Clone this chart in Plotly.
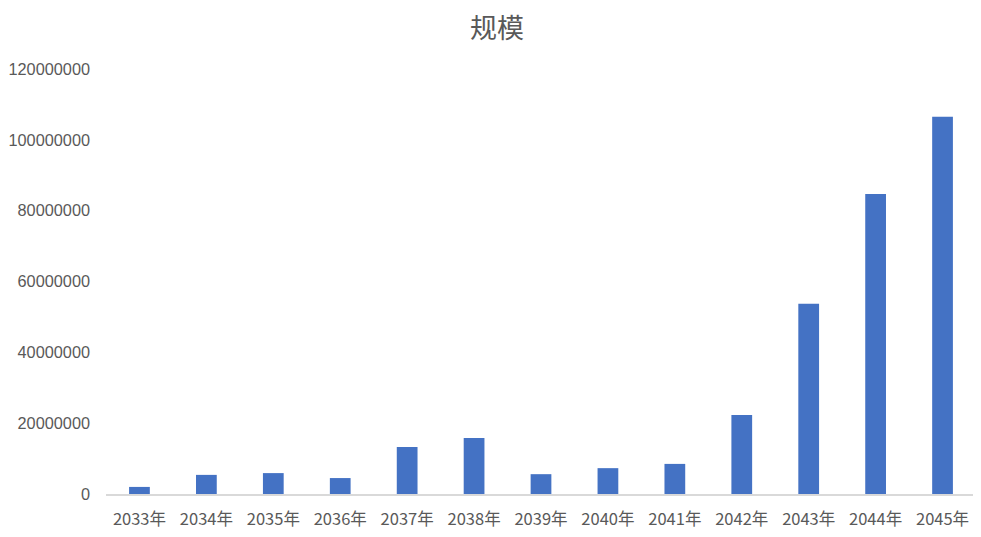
import plotly.graph_objects as go

years = ["2033年", "2034年", "2035年", "2036年", "2037年", "2038年", "2039年",
         "2040年", "2041年", "2042年", "2043年", "2044年", "2045年"]
scale = [2000000, 5400000, 5900000, 4500000, 13300000, 15800000, 5600000,
         7300000, 8500000, 22300000, 53700000, 84700000, 106500000]
y_ticks = [0, 20000000, 40000000, 60000000, 80000000, 100000000, 120000000]

font_family = "Liberation Sans, Noto Sans CJK SC, sans-serif"

fig = go.Figure(go.Bar(x=years, y=scale, marker_color="#4472C4", marker_line_width=0))

fig.update_layout(
    width=973, height=529,
    margin=dict(l=98, r=5, t=61, b=43, autoexpand=False),
    paper_bgcolor="white", plot_bgcolor="white",
    bargap=0.69,
    showlegend=False,
    title=dict(text="规模", x=0.5026, xanchor="center", y=0.962, yanchor="middle",
               font=dict(family="Noto Sans CJK SC, sans-serif", size=27, color="#595959")),
    font=dict(family=font_family, size=15, color="#595959"),
)
fig.update_xaxes(showline=True, linecolor="#d9d9d9", linewidth=1.5, ticks="",
                 showgrid=False, ticklabelstandoff=9,
                 tickfont=dict(family="Noto Sans CJK SC, sans-serif", size=16.5, color="#595959"))
fig.update_yaxes(range=[0, 120000000], tickvals=y_ticks, tickformat="d", showgrid=False,
                 zeroline=False, showline=False, ticks="", ticklabelstandoff=15,
                 tickfont=dict(size=16.3, color="#595959"))

fig.write_html("out.html")
